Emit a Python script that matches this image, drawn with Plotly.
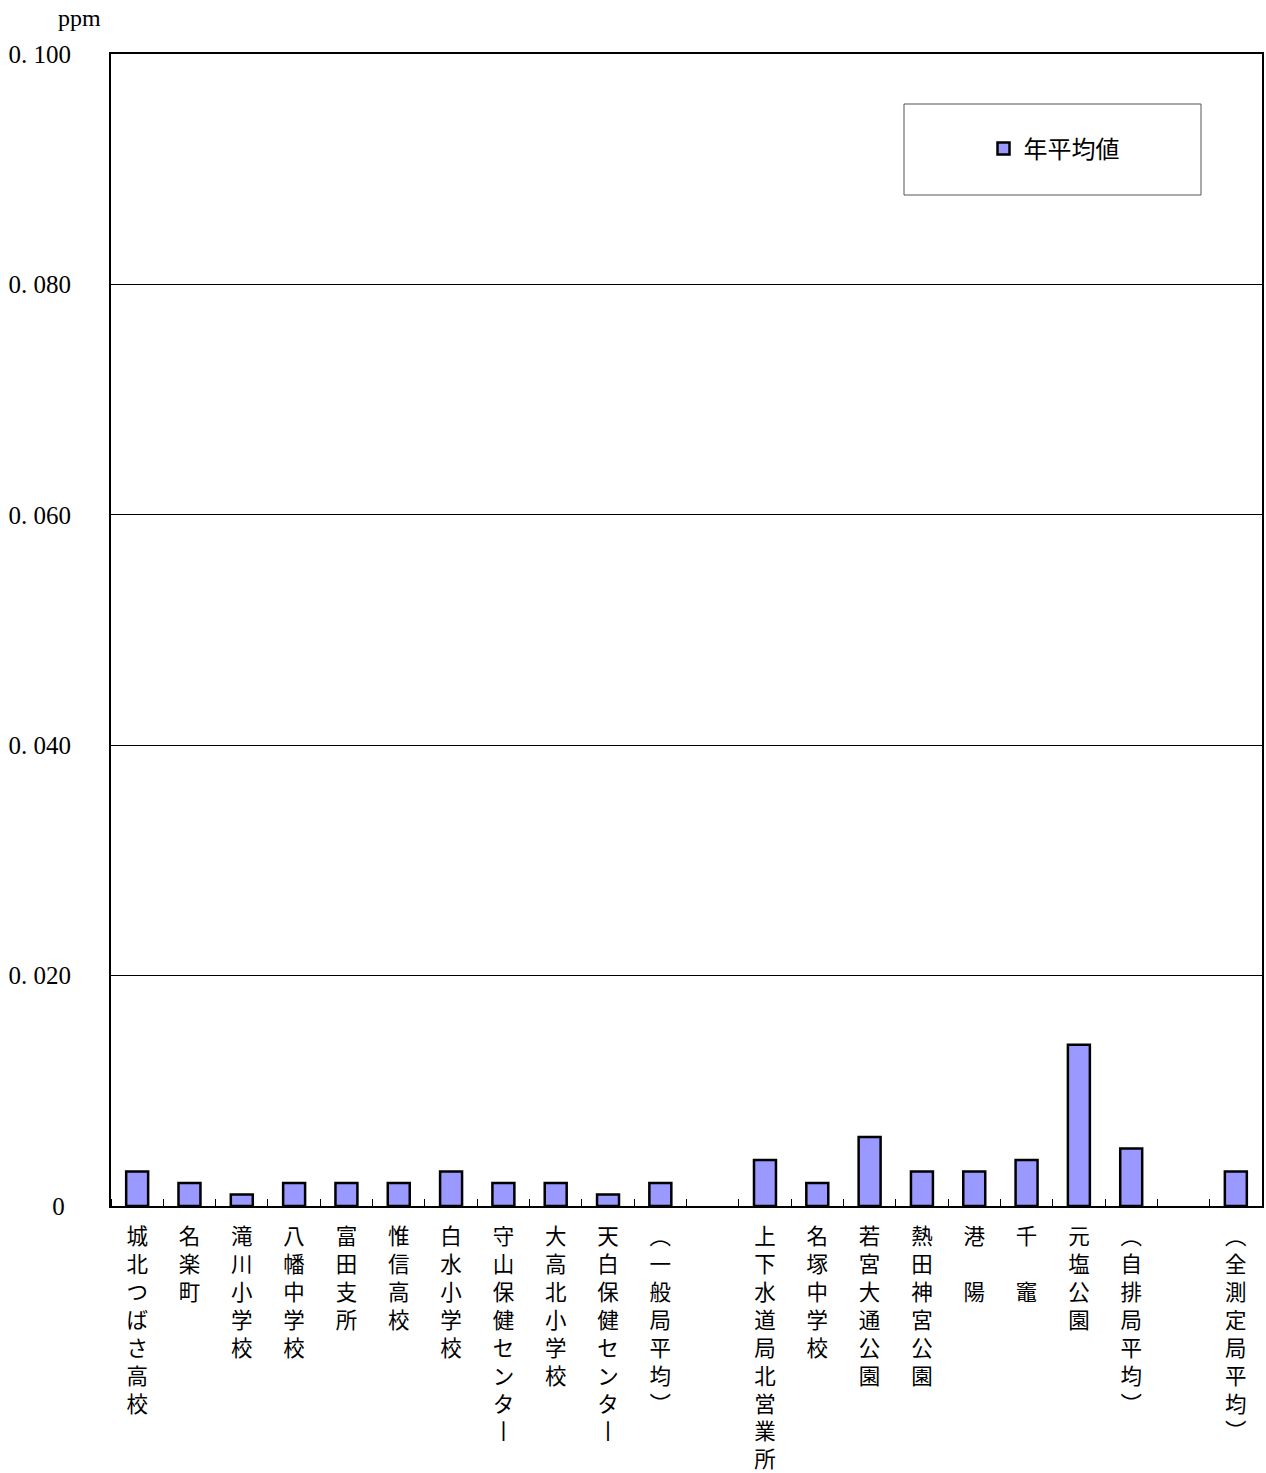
import plotly.graph_objects as go

categories = ["城北つばさ高校", "名楽町", "滝川小学校", "八幡中学校", "富田支所", "惟信高校",
              "白水小学校", "守山保健センター", "大高北小学校", "天白保健センター", "（一般局平均）",
              "", "上下水道局北営業所", "名塚中学校", "若宮大通公園", "熱田神宮公園", "港　陽",
              "千　竈", "元塩公園", "（自排局平均）", "", "（全測定局平均）"]
values = [0.003, 0.002, 0.001, 0.002, 0.002, 0.002, 0.003, 0.002, 0.002, 0.001, 0.002,
          None, 0.004, 0.002, 0.006, 0.003, 0.003, 0.004, 0.014, 0.005, None, 0.003]
y_tickvals = [0, 0.02, 0.04, 0.06, 0.08, 0.10]
y_ticktext = ["0\u00a0", "0. 020", "0. 040", "0. 060", "0. 080", "0. 100"]
series_name = "年平均値"
unit = "ppm"

vert_map = {"（": "︵", "）": "︶", "ー": "丨"}


def vertical(s):
    return "<br>".join(vert_map.get(c, c) for c in s)


xs = list(range(len(categories)))

fig = go.Figure()
fig.add_trace(go.Bar(
    x=xs, y=values, name=series_name,
    marker=dict(color="#9999FF", line=dict(color="black", width=2.5)),
    width=0.42, showlegend=True,
))

W, H = 1266, 1473
L, R, T, B = 111, 4, 54, 1473 - 1206
pw = W - L - R
ph = H - T - B


def px(xp):
    return (xp - L) / pw


def py(yp):
    return (H - B - yp) / ph


fig.update_layout(
    width=W, height=H,
    margin=dict(l=L, r=R, t=T, b=B, pad=0, autoexpand=False),
    paper_bgcolor="white", plot_bgcolor="white",
    font=dict(family="Noto Sans CJK JP", color="black"),
    showlegend=True,
    legend=dict(
        x=px(1054), y=py(149), xanchor="center", yanchor="middle",
        bgcolor="rgba(0,0,0,0)", borderwidth=0,
        font=dict(family="Noto Sans CJK JP", size=24, color="black"),
        itemwidth=30,
    ),
    xaxis=dict(
        range=[-0.5, len(categories) - 0.5],
        automargin=False,
        tickmode="array", tickvals=xs,
        ticktext=[vertical(c) for c in categories],
        ticks="outside", ticklen=10, tickcolor="rgba(0,0,0,0)",
        showgrid=False, zeroline=False,
        showline=True, linecolor="black", linewidth=2, mirror=True,
        tickfont=dict(family="Noto Sans CJK JP", size=21.5, color="black"),
        tickangle=0,
        minor=dict(tickmode="linear", tick0=0.5, dtick=1, ticks="inside",
                   ticklen=7, tickwidth=1, tickcolor="black", showgrid=False),
    ),
    yaxis=dict(
        range=[0, 0.1],
        automargin=False,
        tickmode="array", tickvals=y_tickvals, ticktext=y_ticktext,
        ticks="outside", ticklen=33, tickcolor="rgba(0,0,0,0)",
        showgrid=True, gridcolor="black", gridwidth=1,
        zeroline=False,
        showline=True, linecolor="black", linewidth=2, mirror=True,
        tickfont=dict(family="Liberation Serif, DejaVu Serif", size=25, color="black"),
    ),
    shapes=[dict(type="rect", xref="paper", yref="paper",
                 x0=px(904), x1=px(1201), y0=py(195), y1=py(104),
                 line=dict(color="#555555", width=1), fillcolor="rgba(0,0,0,0)")],
    annotations=[dict(text=unit, xref="paper", yref="paper",
                      x=px(79), y=py(18),
                      xanchor="center", yanchor="middle", showarrow=False,
                      font=dict(family="Liberation Serif, DejaVu Serif", size=24, color="black"))],
)

fig.write_html("out.html",
               config={"displayModeBar": False},
               post_script="document.body.style.margin='0';document.body.style.overflow='hidden';")
